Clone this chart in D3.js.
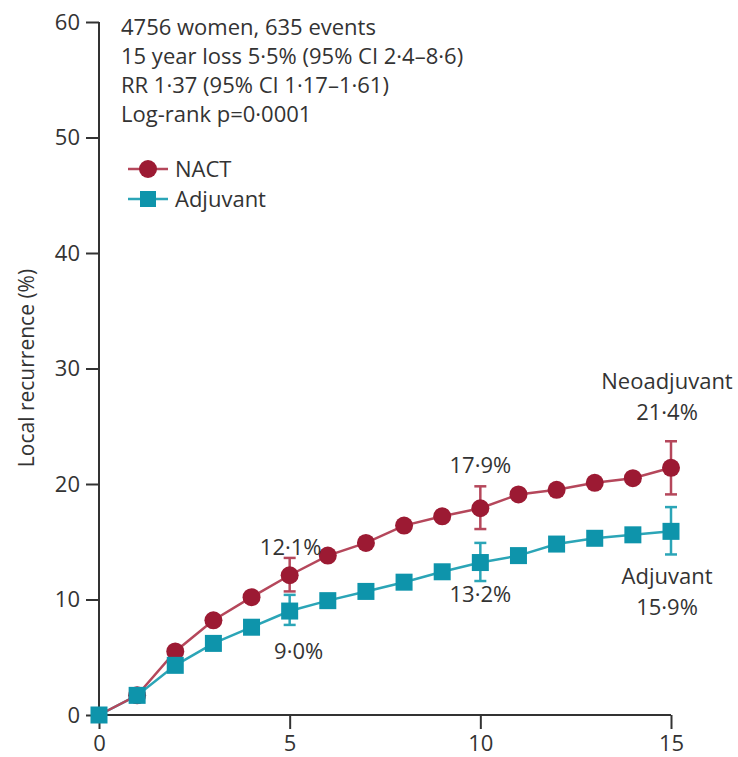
<!DOCTYPE html>
<html><head><meta charset="utf-8">
<script src="https://cdn.jsdelivr.net/npm/d3@7"></script>
<style>
body{margin:0;background:#fff;}
text{font-family:"Open Sans","Noto Sans",sans-serif;fill:#333;}
</style></head>
<body><svg id="c" width="738" height="757"></svg>
<script>
const years = [0,1,2,3,4,5,6,7,8,9,10,11,12,13,14,15];
const nact = [0,1.7,5.5,8.2,10.2,12.1,13.8,14.9,16.4,17.2,17.9,19.1,19.5,20.1,20.5,21.4];
const adjuvant = [0,1.7,4.3,6.2,7.6,9.0,9.9,10.7,11.5,12.4,13.2,13.8,14.8,15.3,15.6,15.9];
const nactCI = [{x:5,lo:10.7,hi:13.6},{x:10,lo:16.1,hi:19.8},{x:15,lo:19.1,hi:23.7}];
const adjCI = [{x:5,lo:7.8,hi:10.4},{x:10,lo:11.6,hi:14.9},{x:15,lo:13.9,hi:18.0}];
const xTicks = [0,5,10,15];
const yTicks = [0,10,20,30,40,50,60];
const statsText = ["4756 women, 635 events","15 year loss 5·5% (95% CI 2·4–8·6)","RR 1·37 (95% CI 1·17–1·61)","Log-rank p=0·0001"];
const pointLabels = [
  {x:5,y:12.1,t:"12·1%",dy:-20,dx:1},
  {x:5,y:9.0,t:"9·0%",dy:48,dx:9},
  {x:10,y:17.9,t:"17·9%",dy:-35,dx:0},
  {x:10,y:13.2,t:"13·2%",dy:39,dx:0},
];

const svg = d3.select("#c");
const x = d3.scaleLinear().domain([0,15]).range([99,671]);
const y = d3.scaleLinear().domain([0,60]).range([715,22]);
const redM="#9c1a33", redL="#b5475b", tealM="#0e94ab", tealL="#2ba5b7";
const axCol="#333";

// axes
const gx = svg.append("g").attr("transform","translate(0,715)")
  .call(d3.axisBottom(x).tickValues(xTicks).tickSize(14).tickPadding(6).tickFormat(d3.format("d")));
const gy = svg.append("g").attr("transform","translate(99,0)")
  .call(d3.axisLeft(y).tickValues(yTicks).tickSize(13).tickPadding(6).tickFormat(d3.format("d")));
[gx,gy].forEach(g=>{
  g.select(".domain").attr("stroke",axCol).attr("stroke-width",2);
  g.selectAll(".tick line").attr("stroke",axCol).attr("stroke-width",2);
  g.selectAll(".tick text").attr("font-size",22).style("font-family","'Open Sans',sans-serif").attr("fill","#333");
});
gx.select(".domain").attr("d","M99,0H671");
gy.select(".domain").attr("d","M0,22V715");
gy.selectAll(".tick text").attr("x",-19);

svg.append("text").attr("transform","translate(34,368) rotate(-90)")
  .attr("text-anchor","middle").attr("font-size",21).text("Local recurrence (%)");

// lines
const line = d3.line().x((d,i)=>x(years[i])).y(d=>y(d));
svg.append("path").datum(adjuvant).attr("d",line).attr("fill","none").attr("stroke",tealL).attr("stroke-width",2.5);
svg.append("path").datum(nact).attr("d",line).attr("fill","none").attr("stroke",redL).attr("stroke-width",2.5);

function ci(data,col){
  const g=svg.append("g").attr("stroke",col).attr("stroke-width",2.5);
  data.forEach(d=>{
    g.append("line").attr("x1",x(d.x)).attr("x2",x(d.x)).attr("y1",y(d.lo)).attr("y2",y(d.hi));
    [d.lo,d.hi].forEach(v=>g.append("line").attr("x1",x(d.x)-6).attr("x2",x(d.x)+6).attr("y1",y(v)).attr("y2",y(v)));
  });
}
ci(nactCI,redL);
ci(adjCI,tealL);

svg.append("g").selectAll("circle").data(nact.slice(1)).join("circle")
  .attr("cx",(d,i)=>x(years[i+1])).attr("cy",d=>y(d)).attr("r",9).attr("fill",redM);
svg.append("g").selectAll("rect").data(adjuvant).join("rect")
  .attr("x",(d,i)=>x(years[i])-8.5).attr("y",d=>y(d)-8.5).attr("width",17).attr("height",17).attr("fill",tealM);

// stats text
svg.append("g").selectAll("text").data(statsText).join("text")
  .attr("x",121).attr("y",(d,i)=>35+i*29).attr("font-size",22).text(d=>d);

// legend
const leg=[{t:"NACT",c:redM,l:redL,s:"c"},{t:"Adjuvant",c:tealM,l:tealL,s:"s"}];
leg.forEach((d,i)=>{
  const cy=169+i*30;
  svg.append("line").attr("x1",128).attr("x2",168).attr("y1",cy).attr("y2",cy).attr("stroke",d.l).attr("stroke-width",2.5);
  if(d.s==="c") svg.append("circle").attr("cx",148).attr("cy",cy).attr("r",9).attr("fill",d.c);
  else svg.append("rect").attr("x",140).attr("y",cy-8).attr("width",16).attr("height",16).attr("fill",d.c);
  svg.append("text").attr("x",175).attr("y",cy+8).attr("font-size",22).text(d.t);
});

// point labels
svg.append("g").selectAll("text").data(pointLabels).join("text")
  .attr("x",d=>x(d.x)+d.dx).attr("y",d=>y(d.y)+d.dy).attr("text-anchor","middle").attr("font-size",22).text(d=>d.t);
const endLabels=[{t:"Neoadjuvant",yy:389},{t:"21·4%",yy:420},{t:"Adjuvant",yy:584},{t:"15·9%",yy:615}];
svg.append("g").selectAll("text").data(endLabels).join("text")
  .attr("x",667).attr("y",d=>d.yy).attr("text-anchor","middle").attr("font-size",22).text(d=>d.t);
</script></body></html>
